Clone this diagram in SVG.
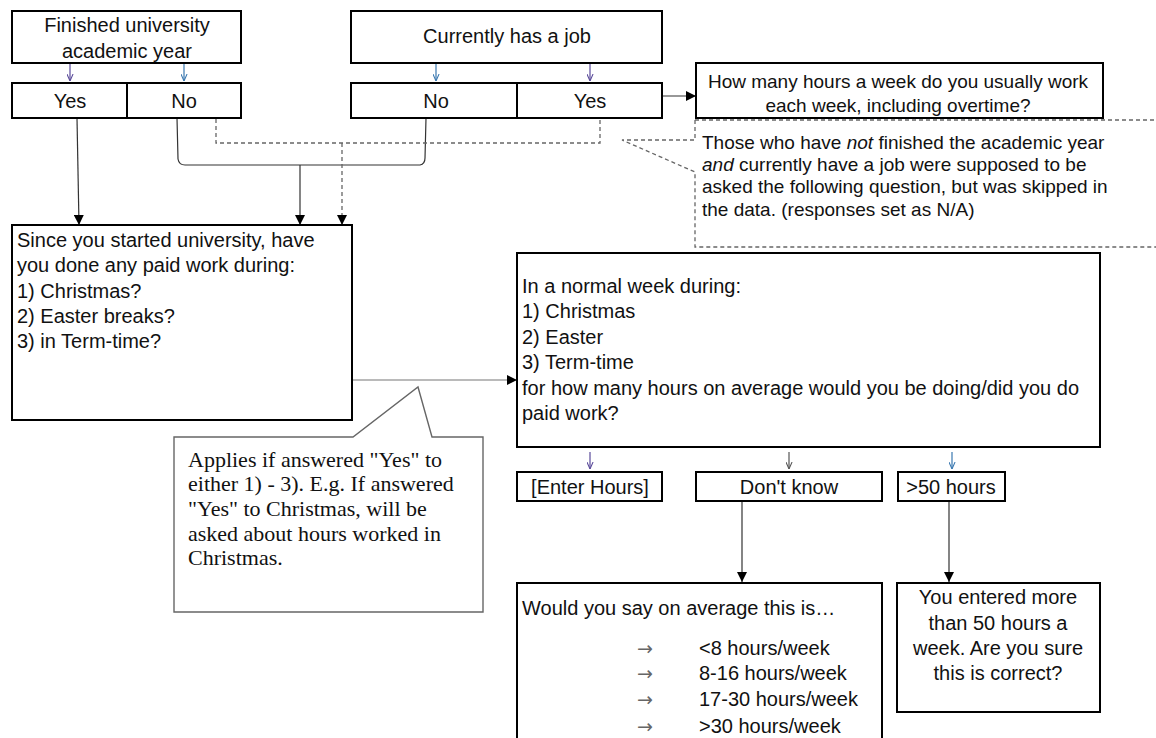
<svg xmlns="http://www.w3.org/2000/svg" width="1156" height="738" viewBox="0 0 1156 738">
<style>
.box{fill:#fff;stroke:#000;stroke-width:2}
.t{font-family:"Liberation Sans",Arial,sans-serif;font-size:20px;fill:#111}
.s{font-family:"Liberation Sans",Arial,sans-serif;font-size:19px;fill:#111}
.tm{font-family:"Liberation Serif","Times New Roman",serif;font-size:22px;fill:#111}
.ar{font-family:"DejaVu Sans",sans-serif;font-size:19px;fill:#666}
.c{text-anchor:middle}
.ln{fill:none;stroke:#333;stroke-width:1.2}
.gl{fill:none;stroke:#777;stroke-width:1.2}
.ds{fill:none;stroke:#666;stroke-width:1.3;stroke-dasharray:4,3}
.call{fill:#fff;stroke:#666;stroke-width:1.4}
.sm{fill:none;stroke-width:1.2}
</style>
<defs>
<marker id="ah" viewBox="0 0 10 10" refX="10" refY="5" markerWidth="10" markerHeight="10" markerUnits="userSpaceOnUse" orient="auto">
<path d="M0,0 L10,5 L0,10 Z" fill="#000"/>
</marker>
<marker id="sa" viewBox="0 0 8 8" refX="8" refY="4" markerWidth="7" markerHeight="7" markerUnits="userSpaceOnUse" orient="auto">
<path d="M0,0.5 L8,4 L0,7.5" fill="none" stroke="context-stroke" stroke-width="1.2"/>
</marker>
</defs>
<rect width="1156" height="738" fill="#fff"/>

<g id="connectors">
<line class="sm" stroke="#5a4a9a" x1="70" y1="64" x2="70" y2="81" marker-end="url(#sa)"/>
<line class="sm" stroke="#3a78b0" x1="184" y1="64" x2="184" y2="81" marker-end="url(#sa)"/>
<line class="sm" stroke="#3a78b0" x1="436" y1="64" x2="436" y2="81" marker-end="url(#sa)"/>
<line class="sm" stroke="#5a4a9a" x1="590" y1="64" x2="590" y2="81" marker-end="url(#sa)"/>
<path class="ln" d="M77,118 L79,225" marker-end="url(#ah)"/>
<path class="ln" d="M177,118 L178,159 Q179,165 185,165 L420,165 Q425,164 425,158 L426,118"/>
<path class="ln" d="M300,165 L300,225" marker-end="url(#ah)"/>
<path class="ds" d="M216,119 L216,143 L600,143 L600,119"/>
<path class="ds" d="M342,143 L342,225" marker-end="url(#ah)"/>
<path class="ln" d="M662,96 L696,96" marker-end="url(#ah)"/>
<path class="gl" d="M352,380 L517,380" marker-end="url(#ah)"/>
<line class="sm" stroke="#5a4a9a" x1="590" y1="452" x2="590" y2="469" marker-end="url(#sa)"/>
<line class="sm" stroke="#555" x1="789" y1="452" x2="789" y2="469" marker-end="url(#sa)"/>
<line class="sm" stroke="#3a78b0" x1="952" y1="452" x2="952" y2="469" marker-end="url(#sa)"/>
<path class="ln" d="M742,501 L742,582" marker-end="url(#ah)"/>
<path class="ln" d="M949,501 L949,582" marker-end="url(#ah)"/>
</g>

<g id="finished">
<rect class="box" x="12" y="11" width="229" height="52"/>
<text class="t c" x="127" y="32">Finished university</text>
<text class="t c" x="127" y="58">academic year</text>
</g>
<g id="finished-answers">
<rect class="box" x="12" y="83" width="229" height="35"/>
<line x1="127" y1="83" x2="127" y2="118" stroke="#000" stroke-width="2"/>
<text class="t c" x="70" y="108">Yes</text>
<text class="t c" x="184" y="108">No</text>
</g>
<g id="job">
<rect class="box" x="351" y="11" width="311" height="52"/>
<text class="t c" x="507" y="43">Currently has a job</text>
</g>
<g id="job-answers">
<rect class="box" x="351" y="83" width="311" height="35"/>
<line x1="517" y1="83" x2="517" y2="118" stroke="#000" stroke-width="2"/>
<text class="t c" x="436" y="108">No</text>
<text class="t c" x="590" y="108">Yes</text>
</g>
<g id="hours-usual">
<rect class="box" x="696" y="63" width="407" height="55"/>
<text class="s c" x="898" y="88">How many hours a week do you usually work</text>
<text class="s c" x="898" y="112">each week, including overtime?</text>
</g>
<g id="note-skipped">
<path class="ds" d="M695,120 L1156,120 M695,120 L695,140 L622,140 L695,172 L695,247 L1156,247"/>
<text class="s" x="702" y="149">Those who have <tspan font-style="italic">not</tspan> finished the academic year</text>
<text class="s" x="702" y="171"><tspan font-style="italic">and</tspan> currently have a job were supposed to be</text>
<text class="s" x="702" y="193">asked the following question, but was skipped in</text>
<text class="s" x="702" y="216">the data. (responses set as N/A)</text>
</g>
<g id="paid-work">
<rect class="box" x="12" y="225" width="340" height="195"/>
<text class="t" x="17" y="247">Since you started university, have</text>
<text class="t" x="17" y="272">you done any paid work during:</text>
<text class="t" x="17" y="298">1) Christmas?</text>
<text class="t" x="17" y="323">2) Easter breaks?</text>
<text class="t" x="17" y="348">3) in Term-time?</text>
</g>
<g id="note-applies">
<path class="call" d="M174,437 L353,437 L418,387 L432,437 L483,437 L483,612 L174,612 Z"/>
<text class="tm" x="188" y="467">Applies if answered "Yes" to</text>
<text class="tm" x="188" y="491">either 1) - 3). E.g. If answered</text>
<text class="tm" x="188" y="516">"Yes" to Christmas, will be</text>
<text class="tm" x="188" y="541">asked about hours worked in</text>
<text class="tm" x="188" y="565">Christmas.</text>
</g>
<g id="normal-week">
<rect class="box" x="517" y="253" width="583" height="194"/>
<text class="t" x="522" y="293">In a normal week during:</text>
<text class="t" x="522" y="318">1) Christmas</text>
<text class="t" x="522" y="344">2) Easter</text>
<text class="t" x="522" y="369">3) Term-time</text>
<text class="t" x="522" y="395">for how many hours on average would you be doing/did you do</text>
<text class="t" x="522" y="420">paid work?</text>
</g>
<g id="enter-hours">
<rect class="box" x="517" y="472" width="145" height="29"/>
<text class="t c" x="590" y="494">[Enter Hours]</text>
</g>
<g id="dont-know">
<rect class="box" x="696" y="472" width="186" height="29"/>
<text class="t c" x="789" y="494">Don't know</text>
</g>
<g id="over-50">
<rect class="box" x="898" y="472" width="107" height="29"/>
<text class="t c" x="951" y="494">&gt;50 hours</text>
</g>
<g id="average">
<rect class="box" x="517" y="583" width="365" height="170"/>
<text class="t" x="522" y="615">Would you say on average this is…</text>
<text class="ar" x="637" y="655">→</text>
<text class="t" x="699" y="655">&lt;8 hours/week</text>
<text class="ar" x="637" y="680">→</text>
<text class="t" x="699" y="680">8-16 hours/week</text>
<text class="ar" x="637" y="706">→</text>
<text class="t" x="699" y="706">17-30 hours/week</text>
<text class="ar" x="637" y="733">→</text>
<text class="t" x="699" y="733">&gt;30 hours/week</text>
</g>
<g id="confirm">
<rect class="box" x="897" y="583" width="203" height="129"/>
<text class="t c" x="998" y="604">You entered more</text>
<text class="t c" x="998" y="630">than 50 hours a</text>
<text class="t c" x="998" y="655">week. Are you sure</text>
<text class="t c" x="998" y="680">this is correct?</text>
</g>
</svg>
